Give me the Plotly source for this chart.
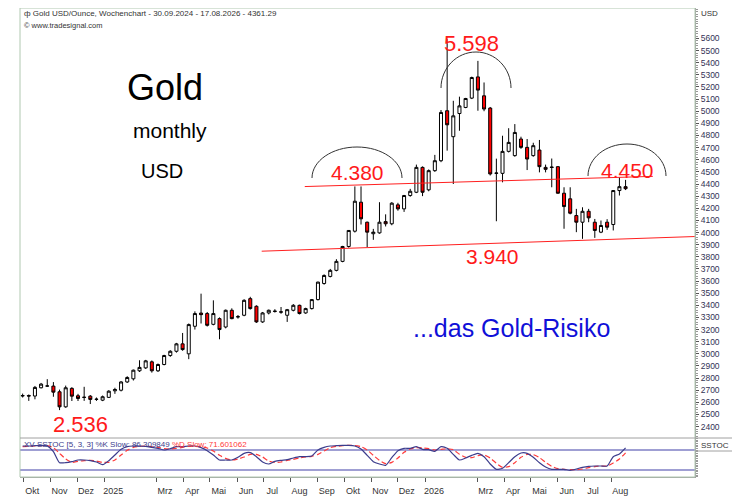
import pandas as pd
import plotly.graph_objects as go
from plotly.subplots import make_subplots

# weekly candles, 30.09.2024 - 17.08.2026
week_start = "2024-09-30"
n_weeks = 99
weeks = pd.date_range(week_start, periods=n_weeks, freq="7D")

opens = [2652, 2656, 2652, 2720, 2734, 2734, 2687, 2563, 2715, 2654,
         2640, 2651, 2624, 2618, 2641, 2695, 2700, 2768, 2794, 2860,
         2884, 2934, 2860, 2912, 2986, 3021, 3082, 3000, 3227, 3336,
         3332, 3243, 3290, 3221, 3359, 3304, 3318, 3455, 3392, 3263,
         3337, 3352, 3346, 3318, 3359, 3400, 3337, 3373, 3447, 3580,
         3638, 3688, 3762, 3885, 4011, 4250, 4085, 3990, 3997, 4090,
         4072, 4228, 4195, 4305, 4332, 4537, 4352, 4510, 4592, 5004,
         4790, 4981, 5031, 5108, 5283, 5127, 5026, 4488, 4488, 4669,
         4634, 4771, 4702, 4634, 4680, 4537, 4540, 4543, 4324, 4278,
         4140, 4085, 4175, 4085, 4003, 4085, 4066, 4346, 4378]
highs = [2672, 2665, 2735, 2760, 2791, 2767, 2705, 2738, 2725, 2670,
         2728, 2660, 2640, 2656, 2700, 2720, 2775, 2815, 2870, 2947,
         2950, 2945, 2920, 2992, 3030, 3090, 3172, 3250, 3350, 3496,
         3345, 3441, 3300, 3365, 3375, 3320, 3450, 3470, 3400, 3345,
         3365, 3368, 3386, 3370, 3410, 3405, 3380, 3452, 3595, 3655,
         3700, 3780, 3890, 4020, 4380, 4380, 4090, 4030, 4250, 4150,
         4250, 4245, 4310, 4360, 4560, 4545, 4520, 4640, 5010, 5598,
         5086, 5120, 5110, 5285, 5415, 5237, 5035, 4609, 4798, 4860,
         4894, 4790, 4771, 4740, 4763, 4560, 4610, 4545, 4373, 4373,
         4195, 4208, 4195, 4112, 4099, 4110, 4350, 4455, 4434]
lows = [2640, 2612, 2625, 2715, 2728, 2646, 2536, 2555, 2611, 2611,
        2612, 2586, 2612, 2610, 2636, 2670, 2690, 2760, 2780, 2850,
        2875, 2845, 2850, 2905, 2975, 3010, 3025, 2956, 3200, 3250,
        3225, 3235, 3120, 3210, 3285, 3290, 3310, 3365, 3255, 3255,
        3325, 3340, 3330, 3263, 3350, 3325, 3330, 3365, 3440, 3570,
        3630, 3680, 3755, 3875, 4000, 4066, 3880, 3940, 3990, 4050,
        4060, 4180, 4170, 4295, 4325, 4300, 4340, 4500, 4580, 4675,
        4400, 4839, 5025, 5100, 5004, 5000, 4470, 4093, 4414, 4660,
        4625, 4690, 4515, 4625, 4496, 4496, 4373, 4320, 4031, 4150,
        4003, 3948, 4085, 3956, 3995, 4022, 4017, 4305, 4350]
closes = [2656, 2652, 2723, 2750, 2735, 2684, 2563, 2720, 2651, 2632,
          2642, 2624, 2626, 2646, 2692, 2706, 2768, 2805, 2865, 2888,
          2942, 2860, 2912, 2986, 3021, 3082, 3035, 3241, 3332, 3323,
          3235, 3332, 3200, 3359, 3290, 3306, 3441, 3373, 3263, 3337,
          3359, 3350, 3344, 3364, 3400, 3332, 3373, 3447, 3591, 3646,
          3688, 3762, 3885, 4017, 4258, 4113, 4003, 4003, 4085, 4072,
          4242, 4195, 4305, 4340, 4537, 4332, 4510, 4592, 4990, 4888,
          4962, 5044, 5105, 5278, 5174, 5018, 4483, 4490, 4669, 4743,
          4825, 4702, 4606, 4716, 4543, 4521, 4537, 4324, 4214, 4159,
          4085, 4175, 4121, 4017, 4058, 4044, 4346, 4378, 4361.29]

# SSTOC [5, 3, 3]
k_slow = [92, 92, 93, 94, 92, 75, 42, 42, 45, 50,
          50, 48, 44, 36, 48, 65, 82, 90, 92, 92,
          91, 88, 85, 80, 84, 90, 90, 92, 92, 87,
          78, 65, 50, 50, 50, 58, 70, 72, 60, 44,
          38, 46, 49, 51, 56, 60, 60, 62, 80, 88,
          92, 93, 94, 94, 92, 83, 64, 45, 38, 34,
          57, 78, 85, 85, 90, 82, 81, 76, 90, 85,
          67, 50, 56, 64, 70, 60, 38, 22, 25, 42,
          60, 71, 70, 58, 42, 29, 22, 22, 22, 19,
          23, 28, 31, 32, 32, 32, 60, 68, 86.309849]
d_slow = [90, 91, 92, 93, 93, 87, 70, 53, 43, 46,
          48, 49, 47, 43, 43, 50, 65, 79, 88, 91,
          92, 90, 88, 84, 83, 85, 88, 91, 91, 90,
          86, 77, 64, 55, 50, 53, 59, 67, 67, 59,
          47, 43, 44, 49, 52, 56, 59, 61, 67, 77,
          87, 91, 93, 94, 93, 90, 80, 64, 49, 39,
          43, 56, 73, 83, 87, 86, 84, 80, 82, 84,
          81, 67, 58, 57, 63, 65, 56, 40, 28, 30,
          42, 58, 67, 66, 57, 43, 31, 24, 22, 21,
          21, 23, 27, 30, 32, 32, 41, 53, 71.601062]
stoch_bands = [80, 20]

# month axis
month_starts = ["2024-10-01", "2024-11-01", "2024-12-01", "2025-01-01", "2025-03-01",
                "2025-04-01", "2025-05-01", "2025-06-01", "2025-07-01", "2025-08-01",
                "2025-09-01", "2025-10-01", "2025-11-01", "2025-12-01", "2026-01-01",
                "2026-03-01", "2026-04-01", "2026-05-01", "2026-06-01", "2026-07-01",
                "2026-08-01"]
month_labels = ["Okt", "Nov", "Dez", "2025", "Mrz", "Apr", "Mai", "Jun", "Jul", "Aug",
                "Sep", "Okt", "Nov", "Dez", "2026", "Mrz", "Apr", "Mai", "Jun", "Jul", "Aug"]
price_ticks = list(range(2400, 5700, 100))

# trend lines (date, value)
resistance = [("2025-08-17", 4379), ("2026-09-17", 4463)]
support = [("2025-06-29", 3846), ("2026-11-04", 3967)]

# page has an 8px body margin, figure sized so the plot box lands at x 20..695, y 8..477
OFF = 8
W, H = 732, 494
L, R, T, B = 12, 45, 0, 25
PW, PH = W - L - R, H - T - B


def px(x):
    return (x - OFF - L) / PW


def py(y):
    return (H - B - (y - OFF)) / PH


def arc_path(cx, cy, rx, ry):
    k = 0.5523
    pts = [(cx - rx, cy), (cx - rx, cy - k * ry), (cx - k * rx, cy - ry), (cx, cy - ry),
           (cx + k * rx, cy - ry), (cx + rx, cy - k * ry), (cx + rx, cy)]
    p = [(px(a), py(b)) for a, b in pts]
    return ("M {0[0]},{0[1]} C {1[0]},{1[1]} {2[0]},{2[1]} {3[0]},{3[1]} "
            "C {4[0]},{4[1]} {5[0]},{5[1]} {6[0]},{6[1]}").format(*p)


fig = make_subplots(rows=2, cols=1, shared_xaxes=True, vertical_spacing=0)

fig.add_trace(go.Candlestick(x=weeks, open=opens, high=highs, low=lows, close=closes,
                             increasing=dict(line=dict(color="#000000", width=1), fillcolor="#ffffff"),
                             decreasing=dict(line=dict(color="#000000", width=1), fillcolor="#ff0000"),
                             whiskerwidth=0, showlegend=False, hoverinfo="skip"), row=1, col=1)

fig.add_trace(go.Scatter(x=weeks, y=d_slow, mode="lines", line=dict(color="#ff3a3a", width=1.2, dash="5px,3px",
                         shape="spline", smoothing=0.6), showlegend=False, hoverinfo="skip"), row=2, col=1)
fig.add_trace(go.Scatter(x=weeks, y=k_slow, mode="lines", line=dict(color="#3c3c8c", width=1.2,
                         shape="spline", smoothing=0.6), showlegend=False, hoverinfo="skip"), row=2, col=1)

shapes = []
for lvl in stoch_bands:
    shapes.append(dict(type="line", xref="x2 domain", yref="y2", x0=0, x1=1, y0=lvl, y1=lvl,
                       line=dict(color="#7f7fc4", width=1.6), layer="below"))
for pts in (resistance, support):
    shapes.append(dict(type="line", xref="x", yref="y", x0=pts[0][0], y0=pts[0][1],
                       x1=pts[1][0], y1=pts[1][1], line=dict(color="#ff2020", width=1)))
for cx, cy, rx, ry in [(357, 178, 45, 31), (476, 88, 35, 36), (627, 176, 39, 32)]:
    shapes.append(dict(type="path", xref="paper", yref="paper", path=arc_path(cx, cy, rx, ry),
                       line=dict(color="#333333", width=1)))
# frame
shapes.append(dict(type="rect", xref="paper", yref="paper", x0=0, x1=1, y0=0, y1=1,
                   line=dict(color="#b0c8b0", width=1)))
shapes.append(dict(type="line", xref="paper", yref="paper", x0=0, x1=px(740), y0=py(438), y1=py(438),
                   line=dict(color="#a0a0a0", width=1)))
shapes.append(dict(type="line", xref="paper", yref="paper", x0=1, x1=px(740), y0=py(451), y1=py(451),
                   line=dict(color="#a0a0a0", width=1)))

red = "#ff1a1a"
ann = [
    dict(x=px(165), y=py(88), text="Gold", font=dict(size=36, color="#000000")),
    dict(x=px(170), y=py(130), text="monthly", font=dict(size=21, color="#000000")),
    dict(x=px(162), y=py(171), text="USD", font=dict(size=20, color="#000000")),
    dict(x=px(471), y=py(43), text="5.598", font=dict(size=22, color=red)),
    dict(x=px(357), y=py(172), text="4.380", font=dict(size=21, color=red)),
    dict(x=px(627), y=py(170), text="4.450", font=dict(size=21, color=red)),
    dict(x=px(492), y=py(256), text="3.940", font=dict(size=21, color=red)),
    dict(x=px(80), y=py(424), text="2.536", font=dict(size=22, color=red)),
    dict(x=px(511), y=py(328), text="...das Gold-Risiko", font=dict(size=25, color="#1010d8")),
]
for a in ann:
    a.update(xref="paper", yref="paper", showarrow=False, xanchor="center", yanchor="middle")
small = dict(family="Liberation Sans, Arial", size=8, color="#333333")
ann += [
    dict(x=px(22), y=py(13), text="ф Gold USD/Ounce, Wochenchart - 30.09.2024 - 17.08.2026 - 4361.29", font=small),
    dict(x=px(22), y=py(25), text="© www.tradesignal.com", font=dict(small, size=7.5)),
    dict(x=px(699), y=py(13), text="USD", font=small),
    dict(x=px(699), y=py(445), text="SSTOC", font=small),
    dict(x=px(22), y=py(444),
         text="XV SSTOC [5, 3, 3] %K Slow: 86.309849 <span style='color:#ff3a3a'>%D Slow: 71.601062</span>",
         font=dict(small, color="#3c3c8c")),
]
for a in ann[-5:]:
    a.update(xref="paper", yref="paper", showarrow=False, xanchor="left", yanchor="middle")

fig.update_layout(
    width=W, height=H, margin=dict(l=L, r=R, t=T, b=B, pad=0),
    paper_bgcolor="#ffffff", plot_bgcolor="#ffffff",
    font=dict(family="Liberation Sans, Arial", color="#000000"),
    shapes=shapes, annotations=ann,
    xaxis=dict(range=["2024-09-27", "2026-11-04"], showticklabels=False, showgrid=False,
               zeroline=False, rangeslider=dict(visible=False)),
    xaxis2=dict(range=["2024-09-27", "2026-11-04"], showgrid=False, zeroline=False,
                tickmode="array", tickvals=[pd.Timestamp(d) + pd.Timedelta(days=10) for d in month_starts],
                ticktext=month_labels, ticks="", tickfont=dict(size=9, color="#333333"),
                ticklabelstandoff=5, showline=True, linecolor="#a0a0a0",
                minor=dict(tickmode="array", tickvals=month_starts, ticks="outside", ticklen=4,
                           tickcolor="#555555", showgrid=False)),
    yaxis=dict(domain=[py(438), 1], range=[2306, 5851], side="right", tickmode="array",
               tickvals=price_ticks, tickformat="d", ticks="outside", ticklen=3, tickcolor="#555555",
               tickfont=dict(size=8.5, color="#333355"), showgrid=False, zeroline=False,
               showline=True, linecolor="#a0a0a0",
               minor=dict(dtick=20, ticks="outside", ticklen=2, tickcolor="#999999")),
    yaxis2=dict(domain=[0, py(438)], range=[-1, 116], side="right", showticklabels=False,
                showgrid=False, zeroline=False, showline=True, linecolor="#a0a0a0",
                ticks="outside", ticklen=2, tickcolor="#999999", dtick=5),
)

fig.write_html("out.html")
